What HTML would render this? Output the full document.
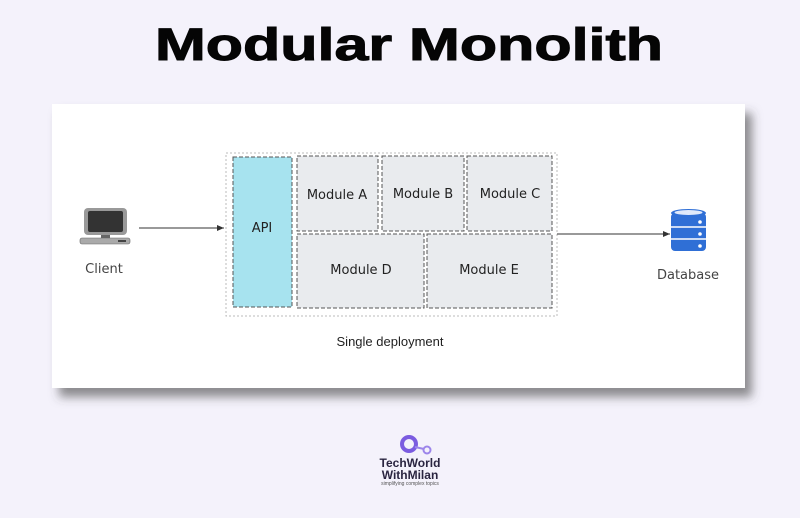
<!DOCTYPE html>
<html><head><style>
body{margin:0;width:800px;height:513px;background:#f4f2fb;overflow:hidden;font-family:"Liberation Sans",sans-serif;}
</style></head><body>
<svg width="800" height="513" viewBox="0 0 800 513" xmlns="http://www.w3.org/2000/svg">
<defs>
<filter id="sh" x="-5%" y="-10%" width="115%" height="130%"><feDropShadow dx="7" dy="9" stdDeviation="5" flood-color="#444" flood-opacity="0.6"/></filter>
<marker id="ar" markerWidth="8" markerHeight="8" refX="7" refY="4" orient="auto"><path d="M0,1 L7,4 L0,7 z" fill="#333"/></marker>
</defs>
<text x="155" y="60" textLength="508" lengthAdjust="spacingAndGlyphs" font-family="Liberation Sans" font-weight="bold" font-size="45" fill="#050505" stroke="#050505" stroke-width="1">Modular Monolith</text>
<rect x="52" y="104" width="693" height="284" fill="#fff" filter="url(#sh)"/>
<rect x="226" y="153" width="331" height="163" fill="none" stroke="#bbb" stroke-width="1" stroke-dasharray="2,2"/>
<g stroke="#555" stroke-width="1" stroke-dasharray="4,2">
<rect x="233" y="157" width="59" height="150" fill="#a7e3ef"/>
<rect x="297" y="156" width="81" height="75" fill="#e9ebee"/>
<rect x="382" y="156" width="82" height="75" fill="#e9ebee"/>
<rect x="467" y="156" width="85" height="75" fill="#e9ebee"/>
<rect x="297" y="234" width="127" height="74" fill="#e9ebee"/>
<rect x="427" y="234" width="125" height="74" fill="#e9ebee"/>
</g>
<g font-family="DejaVu Sans" font-size="13" fill="#222" text-anchor="middle">
<text x="262" y="232">API</text>
<text x="337" y="199">Module A</text>
<text x="423" y="198">Module B</text>
<text x="510" y="198">Module C</text>
<text x="361" y="274">Module D</text>
<text x="489" y="274">Module E</text>
<text x="104" y="273" fill="#444">Client</text>
<text x="688" y="279" fill="#444">Database</text>
</g>
<text x="390" y="346" font-size="13" text-anchor="middle" fill="#222">Single deployment</text>
<line x1="139" y1="228" x2="224" y2="228" stroke="#333" stroke-width="1" marker-end="url(#ar)"/>
<line x1="557" y1="234" x2="670" y2="234" stroke="#333" stroke-width="1" marker-end="url(#ar)"/>
<rect x="84" y="208" width="43" height="27" rx="4" fill="#999"/>
<rect x="88" y="211" width="35" height="21" rx="2" fill="#333"/>
<rect x="101" y="235" width="9" height="3" fill="#666"/>
<rect x="80" y="238" width="50" height="6" rx="2" fill="#aaa" stroke="#666" stroke-width="0.6"/>
<rect x="118" y="240" width="8" height="2" fill="#444"/>
<g fill="#2f6fd6">
<rect x="671" y="213" width="35" height="38" rx="4"/>
<ellipse cx="688.5" cy="213" rx="17.5" ry="4"/>
</g>
<ellipse cx="688.5" cy="212.5" rx="14" ry="2.5" fill="#dfe9fb"/>
<line x1="671" y1="227" x2="706" y2="227" stroke="#fff" stroke-width="1.5"/>
<line x1="671" y1="239" x2="706" y2="239" stroke="#fff" stroke-width="1.5"/>
<circle cx="700" cy="222" r="1.8" fill="#fff"/><circle cx="700" cy="234" r="1.8" fill="#fff"/><circle cx="700" cy="246" r="1.8" fill="#fff"/>
<circle cx="409" cy="444" r="7" fill="none" stroke="#7b5ce0" stroke-width="4"/>
<line x1="415" y1="447" x2="424" y2="449" stroke="#9c85ea" stroke-width="2"/>
<circle cx="427" cy="450" r="3.5" fill="none" stroke="#9c85ea" stroke-width="2"/>
<text x="410" y="467" font-size="12" font-weight="bold" text-anchor="middle" fill="#2a2540">TechWorld</text>
<text x="410" y="479" font-size="12" font-weight="bold" text-anchor="middle" fill="#2a2540">WithMilan</text>
<text x="410" y="485" font-size="5" text-anchor="middle" fill="#555">simplifying complex topics</text>
</svg>
</body></html>
